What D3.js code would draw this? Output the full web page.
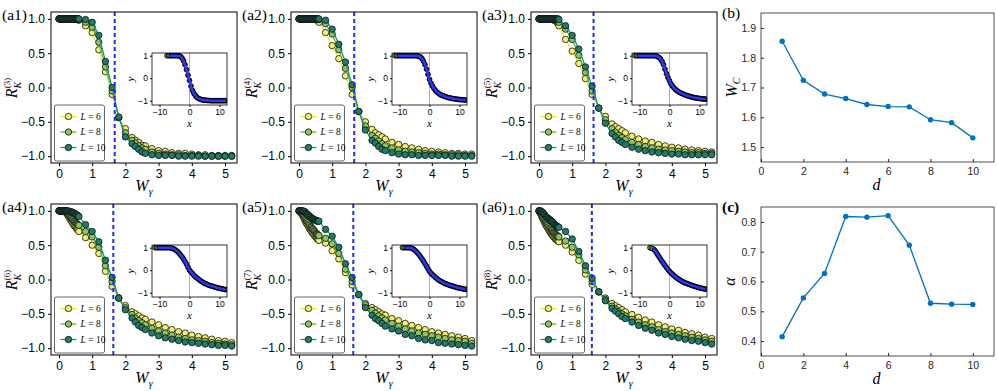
<!DOCTYPE html>
<html><head><meta charset="utf-8">
<script src="https://cdn.jsdelivr.net/npm/d3@7"></script>
<style>body{margin:0;background:#fff}svg{display:block}</style>
</head><body>
<svg id="c" width="997" height="391"></svg>
<script>
// ---------------- data ----------------
const W_dense  = [0,0.025,0.05,0.075,0.1,0.125,0.15,0.175,0.2,0.225,0.25,0.275,0.3,0.325,0.35,0.375,0.4,0.425,0.45,0.475,0.5,0.525,0.55,0.575];
const W_coarse = [0.6,0.8,1.0,1.2,1.4,1.6,1.8,2.0,2.2,2.3,2.4,2.5,2.6,2.8,3.0,3.2,3.4,3.6,3.8,4.0,4.2,4.4,4.6,4.8,5.0,5.2];

// blob values (on W_dense) and coarse values (on W_coarse)
const a1_L6_dense  = [1,1,1,1,1,1,1,1,1,1,1,1,1,1,1,1,1,1,1,1,1,0.995,0.99,0.99];
const a1_L8_dense  = [1,1,1,1,1,1,1,1,1,1,1,1,1,1,1,1,1,1,1,1,1,1,1,1];
const a1_L10_dense = [1,1,1,1,1,1,1,1,1,1,1,1,1,1,1,1,1,1,1,1,1,1,1,1];
const a1_L6  = [0.98,0.9,0.8,0.55,0.23,-0.1,-0.44,-0.6,-0.73,-0.77,-0.8,-0.84,-0.85,-0.89,-0.92,-0.93,-0.95,-0.96,-0.96,-0.97,-0.98,-0.98,-0.99,-0.99,-0.99,-0.99];
const a1_L8  = [0.99,0.95,0.88,0.66,0.3,-0.05,-0.44,-0.66,-0.77,-0.81,-0.85,-0.88,-0.9,-0.94,-0.96,-0.97,-0.98,-0.98,-0.99,-0.99,-0.99,-1,-1,-1,-1,-1];
const a1_L10 = [1,0.99,0.95,0.76,0.38,0.0,-0.43,-0.72,-0.82,-0.86,-0.9,-0.94,-0.96,-0.98,-0.99,-0.99,-0.99,-1,-1,-1,-1,-1,-1,-1,-1,-1];

const a2_L6_dense  = [1,1,1,1,1,1,1,1,1,1,1,1,1,1,1,1,1,1,1,1,0.99,0.99,0.98,0.97];
const a2_L8_dense  = [1,1,1,1,1,1,1,1,1,1,1,1,1,1,1,1,1,1,1,1,1,1,0.995,0.99];
const a2_L10_dense = [1,1,1,1,1,1,1,1,1,1,1,1,1,1,1,1,1,1,1,1,1,1,1,1];
const a2_L6  = [0.95,0.8,0.61,0.42,0.17,-0.1,-0.35,-0.5,-0.61,-0.66,-0.69,-0.72,-0.75,-0.8,-0.83,-0.86,-0.88,-0.9,-0.92,-0.93,-0.94,-0.95,-0.96,-0.96,-0.97,-0.97];
const a2_L8  = [0.99,0.93,0.78,0.55,0.28,0.0,-0.35,-0.56,-0.7,-0.74,-0.78,-0.82,-0.85,-0.88,-0.91,-0.93,-0.94,-0.95,-0.96,-0.97,-0.97,-0.98,-0.98,-0.98,-0.99,-0.99];
const a2_L10 = [1,0.98,0.85,0.63,0.37,0.04,-0.35,-0.62,-0.77,-0.81,-0.86,-0.9,-0.92,-0.95,-0.97,-0.98,-0.98,-0.99,-0.99,-0.99,-0.99,-0.99,-1,-1,-1,-1];

const a3_L6_dense  = [1,1,1,1,1,1,1,1,1,1,1,1,1,1,1,0.995,0.99,0.99,0.98,0.98,0.97,0.96,0.95,0.93];
const a3_L8_dense  = [1,1,1,1,1,1,1,1,1,1,1,1,1,1,1,1,1,0.995,0.99,0.99,0.98,0.98,0.97,0.96];
const a3_L10_dense = [1,1,1,1,1,1,1,1,1,1,1,1,1,1,1,1,1,1,1,1,1,1,1,1];
const a3_L6  = [0.9,0.7,0.53,0.35,0.13,-0.1,-0.3,-0.42,-0.53,-0.57,-0.6,-0.63,-0.66,-0.71,-0.75,-0.78,-0.8,-0.83,-0.85,-0.87,-0.88,-0.9,-0.91,-0.92,-0.93,-0.94];
const a3_L8  = [0.95,0.85,0.7,0.47,0.22,-0.05,-0.3,-0.47,-0.6,-0.65,-0.7,-0.73,-0.76,-0.8,-0.83,-0.86,-0.88,-0.9,-0.91,-0.92,-0.93,-0.94,-0.95,-0.95,-0.96,-0.96];
const a3_L10 = [0.99,0.9,0.76,0.56,0.3,0.02,-0.3,-0.52,-0.67,-0.72,-0.77,-0.8,-0.83,-0.87,-0.9,-0.92,-0.94,-0.95,-0.96,-0.97,-0.97,-0.98,-0.98,-0.98,-0.98,-0.98];

const a4_L6_dense  = [1,1,1,1,1,1,1,0.99,0.98,0.97,0.95,0.93,0.91,0.89,0.87,0.85,0.83,0.81,0.79,0.78,0.76,0.75,0.73,0.72];
const a4_L8_dense  = [1,1,1,1,1,1,1,1,0.99,0.98,0.97,0.96,0.94,0.93,0.91,0.9,0.88,0.87,0.85,0.84,0.83,0.82,0.81,0.8];
const a4_L10_dense = [1,1,1,1,1,1,1,1,1,1,1,1,0.99,0.99,0.99,0.98,0.98,0.97,0.97,0.96,0.95,0.94,0.94,0.93];
const a4_L6  = [0.7,0.61,0.5,0.38,0.12,-0.1,-0.27,-0.38,-0.47,-0.5,-0.53,-0.56,-0.58,-0.62,-0.66,-0.7,-0.73,-0.76,-0.78,-0.81,-0.83,-0.85,-0.87,-0.89,-0.9,-0.92];
const a4_L8  = [0.79,0.7,0.62,0.47,0.2,-0.03,-0.27,-0.41,-0.51,-0.56,-0.6,-0.63,-0.66,-0.71,-0.75,-0.78,-0.81,-0.84,-0.86,-0.88,-0.89,-0.9,-0.92,-0.93,-0.94,-0.95];
const a4_L10 = [0.92,0.8,0.7,0.55,0.28,0.03,-0.27,-0.44,-0.56,-0.62,-0.67,-0.7,-0.73,-0.78,-0.82,-0.85,-0.87,-0.89,-0.91,-0.92,-0.93,-0.94,-0.95,-0.96,-0.96,-0.97];

const a5_L6_dense  = [1,0.99,0.98,0.96,0.94,0.92,0.89,0.87,0.84,0.82,0.8,0.78,0.76,0.74,0.72,0.7,0.68,0.67,0.65,0.64,0.62,0.61,0.59,0.58];
const a5_L8_dense  = [1,1,0.99,0.98,0.97,0.95,0.93,0.91,0.89,0.87,0.85,0.83,0.81,0.79,0.77,0.76,0.74,0.73,0.71,0.7,0.68,0.67,0.66,0.65];
const a5_L10_dense = [1,1,1,1,1,1,0.99,0.99,0.97,0.96,0.95,0.94,0.93,0.92,0.91,0.9,0.89,0.88,0.87,0.87,0.86,0.86,0.85,0.85];
const a5_L6  = [0.57,0.53,0.42,0.3,0.1,-0.08,-0.22,-0.35,-0.41,-0.44,-0.47,-0.5,-0.52,-0.57,-0.6,-0.64,-0.67,-0.7,-0.73,-0.76,-0.78,-0.8,-0.82,-0.84,-0.86,-0.89];
const a5_L8  = [0.64,0.6,0.52,0.38,0.15,-0.03,-0.22,-0.37,-0.45,-0.49,-0.53,-0.56,-0.59,-0.64,-0.68,-0.72,-0.75,-0.78,-0.8,-0.82,-0.84,-0.86,-0.88,-0.89,-0.9,-0.93];
const a5_L10 = [0.85,0.73,0.63,0.47,0.23,0.03,-0.22,-0.41,-0.52,-0.57,-0.6,-0.64,-0.68,-0.72,-0.75,-0.8,-0.82,-0.86,-0.88,-0.89,-0.92,-0.93,-0.94,-0.95,-0.96,-0.97];

const a6_L6_dense  = [1,0.98,0.96,0.93,0.9,0.88,0.85,0.83,0.8,0.78,0.76,0.74,0.72,0.7,0.68,0.66,0.65,0.63,0.62,0.6,0.59,0.58,0.57,0.56];
const a6_L8_dense  = [1,0.99,0.98,0.96,0.94,0.91,0.89,0.87,0.85,0.83,0.81,0.79,0.77,0.75,0.74,0.72,0.71,0.69,0.68,0.67,0.66,0.65,0.64,0.63];
const a6_L10_dense = [1,1,1,0.99,0.98,0.97,0.95,0.94,0.92,0.91,0.9,0.89,0.88,0.87,0.86,0.85,0.84,0.83,0.81,0.8,0.79,0.78,0.77,0.77];
const a6_L6  = [0.55,0.5,0.4,0.28,0.08,-0.07,-0.18,-0.27,-0.35,-0.38,-0.41,-0.44,-0.47,-0.51,-0.55,-0.59,-0.62,-0.66,-0.69,-0.72,-0.74,-0.77,-0.79,-0.81,-0.84,-0.86];
const a6_L8  = [0.62,0.56,0.47,0.36,0.14,-0.03,-0.18,-0.29,-0.39,-0.43,-0.47,-0.5,-0.53,-0.58,-0.62,-0.66,-0.69,-0.73,-0.76,-0.78,-0.8,-0.82,-0.84,-0.86,-0.88,-0.9];
const a6_L10 = [0.76,0.7,0.59,0.41,0.2,0.02,-0.18,-0.31,-0.42,-0.46,-0.5,-0.54,-0.57,-0.62,-0.67,-0.71,-0.74,-0.78,-0.8,-0.83,-0.85,-0.87,-0.89,-0.9,-0.92,-0.94];

// inset (scaling collapse) samples
const insetX = [-12,-11.5,-11,-10.5,-10,-9.5,-9,-8.5,-8,-7.5,-7,-6.5,-6,-5.5,-5,-4.5,-4,-3.5,-3,-2.5,-2,-1.5,-1,-0.5,0,0.5,1,1.5,2,2.5,3,3.5,4,4.5,5,5.5,6,6.5,7,7.5,8,8.5,9,9.5,10,10.5,11,11.5,12];
const a1_inset = [null,null,null,null,null,null,null,null,null, 1,1,1,1,1,1,1,1,0.99,0.97,0.9,0.78,0.6,0.38,0.13,-0.1,-0.35,-0.55,-0.68,-0.78,-0.85,-0.9,-0.93,-0.95,-0.97,-0.98,-0.98,-0.99, -0.99,-1,-1,-1,-1,-1,-1,-1,-1,-1,-1,-1];
const a2_inset = [null, 1,1,1,1,1,1,1,1,1,1,1,1,1,1,1, 0.99,0.97,0.94,0.87,0.75,0.6,0.4,0.17,-0.05,-0.22,-0.35,-0.46,-0.55,-0.62,-0.67,-0.72,-0.75,-0.78,-0.8,-0.83,-0.85,-0.87,-0.88,-0.9,-0.91,-0.92,-0.93,-0.94,-0.95,-0.95,-0.96,-0.96,-0.97];
const a3_inset = [null, 1,1,1,1,1,1,1,1,1,1,1,1,1,1,1, 0.96,0.92,0.86,0.75,0.6,0.4,0.2,0.03,-0.12,-0.25,-0.35,-0.43,-0.5,-0.55,-0.6,-0.64,-0.67,-0.7,-0.73,-0.76,-0.78,-0.8,-0.82,-0.84,-0.85,-0.87,-0.88,-0.89,-0.9,-0.91,-0.92,-0.92,-0.93];
const a4_inset = [null, 1,1,1,1,1,1,1,1,1,1,1, 0.98,0.96,0.93,0.88,0.83,0.76,0.68,0.6,0.5,0.39,0.27,0.13,0.0,-0.08,-0.15,-0.23,-0.3,-0.35,-0.4,-0.45,-0.5,-0.54,-0.58,-0.61,-0.64,-0.67,-0.69,-0.71,-0.73,-0.75,-0.77,-0.79,-0.8,-0.82,-0.83,-0.85,-0.86];
const a5_inset = [null,null,null,null,null,null, 1,1,1,1,1,1, 0.98,0.95,0.9,0.84,0.77,0.69,0.6,0.5,0.4,0.29,0.18,0.06,-0.05,-0.13,-0.2,-0.26,-0.32,-0.38,-0.43,-0.47,-0.51,-0.55,-0.58,-0.61,-0.63,-0.66,-0.68,-0.7,-0.72,-0.74,-0.76,-0.78,-0.79,-0.81,-0.82,-0.84,-0.85];
const a6_inset = [null,null,null,null,null,null,null,null,null,null,null, 1,0.98,0.95,0.9,0.81,0.7,0.6,0.5,0.4,0.3,0.21,0.12,0.03,-0.05,-0.12,-0.18,-0.24,-0.3,-0.35,-0.4,-0.44,-0.48,-0.52,-0.55,-0.58,-0.6,-0.63,-0.65,-0.68,-0.7,-0.72,-0.74,-0.76,-0.78,-0.8,-0.81,-0.83,-0.84];

// right panels
const dVals = [1,2,3,4,5,6,7,8,9,10];
const W_c   = [1.855,1.724,1.678,1.663,1.643,1.636,1.635,1.592,1.582,1.531];
const alpha = [0.415,0.545,0.627,0.818,0.816,0.821,0.722,0.527,0.524,0.523];

const mainXTicks = [0,1,2,3,4,5];
const mainYTicks = [-1,-0.5,0,0.5,1];
const insetXTicks = [-10,0,10];
const insetYTicks = [-1,0,1];
const dTicks = [0,2,4,6,8,10];
const wcTicks = [1.5,1.6,1.7,1.8,1.9];
const alphaTicks = [0.4,0.5,0.6,0.7,0.8];
const Lnames = ["6","8","10"];

// ---------------- drawing ----------------
const W_gamma = W_dense.concat(W_coarse);
const svg = d3.select("#c");
const SANS = "Liberation Sans, Arial, sans-serif";
const SERIF = "Liberation Serif, Times New Roman, serif";
const series = [
  {fill:"#f3ef6c", line:"#ece43a"},
  {fill:"#8cc65c", line:"#62b444"},
  {fill:"#1f7d69", line:"#1b9281"}
];
const panels = [
  {lab:"(a1)", sup:"(3)", left:51,  top:12,  data:[a1_L6_dense.concat(a1_L6),a1_L8_dense.concat(a1_L8),a1_L10_dense.concat(a1_L10)], inset:a1_inset, wc:W_c[2]},
  {lab:"(a2)", sup:"(4)", left:291, top:12,  data:[a2_L6_dense.concat(a2_L6),a2_L8_dense.concat(a2_L8),a2_L10_dense.concat(a2_L10)], inset:a2_inset, wc:W_c[3]},
  {lab:"(a3)", sup:"(5)", left:531, top:12,  data:[a3_L6_dense.concat(a3_L6),a3_L8_dense.concat(a3_L8),a3_L10_dense.concat(a3_L10)], inset:a3_inset, wc:W_c[4]},
  {lab:"(a4)", sup:"(6)", left:51,  top:204, data:[a4_L6_dense.concat(a4_L6),a4_L8_dense.concat(a4_L8),a4_L10_dense.concat(a4_L10)], inset:a4_inset, wc:W_c[5]},
  {lab:"(a5)", sup:"(7)", left:291, top:204, data:[a5_L6_dense.concat(a5_L6),a5_L8_dense.concat(a5_L8),a5_L10_dense.concat(a5_L10)], inset:a5_inset, wc:W_c[6]},
  {lab:"(a6)", sup:"(8)", left:531, top:204, data:[a6_L6_dense.concat(a6_L6),a6_L8_dense.concat(a6_L8),a6_L10_dense.concat(a6_L10)], inset:a6_inset, wc:W_c[7]}
];
const PW = 186, PH = 151;

function styleAxis(g, size, font, color){
  g.select(".domain").remove();
  g.selectAll("text").attr("font-family", font).attr("font-size", size).attr("fill", color||"#000");
  g.selectAll("line").attr("stroke", color||"#000");
}

panels.forEach((p, pi) => {
  const x = d3.scaleLinear().domain([-0.24, 5.36]).range([p.left, p.left + PW]);
  const y = d3.scaleLinear().domain([-1.1, 1.1]).range([p.top + PH, p.top]);
  const g = svg.append("g");
  const cid = "clip" + pi;
  svg.append("clipPath").attr("id", cid).append("rect")
    .attr("x", p.left).attr("y", p.top).attr("width", PW).attr("height", PH);

  g.append("g").attr("transform", `translate(0,${p.top + PH})`)
    .call(d3.axisBottom(x).tickValues(mainXTicks).tickSize(3).tickPadding(3).tickFormat(d3.format("d")))
    .call(a => styleAxis(a, 12, SANS));
  g.append("g").attr("transform", `translate(${p.left},0)`)
    .call(d3.axisLeft(y).tickValues(mainYTicks).tickSize(3).tickPadding(3).tickFormat(d3.format(".1f")))
    .call(a => styleAxis(a, 12, SANS));

  const pg = g.append("g").attr("clip-path", `url(#${cid})`);
  p.data.forEach((vals, si) => {
    const s = series[si];
    const pts = W_gamma.map((w, i) => [w, vals[i]]);
    pg.append("path").datum(pts)
      .attr("d", d3.line().x(d => x(d[0])).y(d => y(d[1])))
      .attr("fill", "none").attr("stroke", s.line).attr("stroke-width", 1.3);
    pg.selectAll(null).data(pts).enter().append("circle")
      .attr("cx", d => x(d[0])).attr("cy", d => y(d[1])).attr("r", 3.2)
      .attr("fill", s.fill).attr("stroke", "#111").attr("stroke-width", 0.8);
  });
  pg.append("line").attr("x1", x(p.wc)).attr("x2", x(p.wc)).attr("y1", p.top).attr("y2", p.top + PH)
    .attr("stroke", "#2424ff").attr("stroke-width", 2).attr("stroke-dasharray", "4,3");

  g.append("rect").attr("x", p.left).attr("y", p.top).attr("width", PW).attr("height", PH)
    .attr("fill", "none").attr("stroke", "#000").attr("stroke-width", 1);

  // legend
  const lx = p.left + 3.5, ly = p.top + 93;
  const lg = g.append("g");
  lg.append("rect").attr("x", lx).attr("y", ly).attr("width", 50).attr("height", 56)
    .attr("rx", 2).attr("fill", "#fff").attr("stroke", "#555").attr("stroke-width", 0.9);
  series.forEach((s, si) => {
    const yy = ly + 11.5 + si * 15.5;
    lg.append("line").attr("x1", lx + 6).attr("x2", lx + 22).attr("y1", yy).attr("y2", yy)
      .attr("stroke", s.line).attr("stroke-width", 1.3);
    lg.append("circle").attr("cx", lx + 14).attr("cy", yy).attr("r", 3.2)
      .attr("fill", s.fill).attr("stroke", "#111").attr("stroke-width", 0.8);
    const t = lg.append("text").attr("x", lx + 26).attr("y", yy + 3.2)
      .attr("font-family", SERIF).attr("font-size", 9.5);
    t.append("tspan").attr("font-style", "italic").text("L");
    t.append("tspan").text(" = " + Lnames[si]);
  });

  // inset
  const il = p.left + 101, it = p.top + 41, iw = 75, ih = 52;
  const ix = d3.scaleLinear().domain([-12.5, 12.5]).range([il, il + iw]);
  const iy = d3.scaleLinear().domain([-1.19, 1.12]).range([it + ih, it]);
  const icid = "iclip" + pi;
  svg.append("clipPath").attr("id", icid).append("rect")
    .attr("x", il).attr("y", it).attr("width", iw).attr("height", ih);
  const ig = g.append("g");
  ig.append("rect").attr("x", il).attr("y", it).attr("width", iw).attr("height", ih).attr("fill", "#fff");
  ig.append("g").attr("transform", `translate(0,${it + ih})`)
    .call(d3.axisBottom(ix).tickValues(insetXTicks).tickSize(2).tickPadding(2).tickFormat(d3.format("d")))
    .call(a => styleAxis(a, 8.5, SANS));
  ig.append("g").attr("transform", `translate(${il},0)`)
    .call(d3.axisLeft(iy).tickValues(insetYTicks).tickSize(2).tickPadding(2).tickFormat(d3.format("d")))
    .call(a => styleAxis(a, 8.5, SANS));
  const ipg = ig.append("g").attr("clip-path", `url(#${icid})`);
  ipg.append("line").attr("x1", ix(0)).attr("x2", ix(0)).attr("y1", it).attr("y2", it + ih)
    .attr("stroke", "#b0b0b0").attr("stroke-width", 1);
  const ipts = insetX.map((v, i) => [v, p.inset[i]]).filter(d => d[1] !== null);
  ipg.selectAll(null).data(ipts).enter().append("circle")
    .attr("cx", d => ix(d[0])).attr("cy", d => iy(d[1])).attr("r", 2.4)
    .attr("fill", (d, i) => i < 3 ? "#8cc65c" : "#1c1c3a").attr("stroke", "#000").attr("stroke-width", 0.9);
  ipg.append("path").datum(ipts.filter((d, i) => i >= 2))
    .attr("d", d3.line().x(d => ix(d[0])).y(d => iy(d[1])))
    .attr("fill", "none").attr("stroke", "#2f35ff").attr("stroke-width", 2.4);
  ig.append("rect").attr("x", il).attr("y", it).attr("width", iw).attr("height", ih)
    .attr("fill", "none").attr("stroke", "#000").attr("stroke-width", 0.8);
  ig.append("text").attr("x", ix(0)).attr("y", it + ih + 22).attr("text-anchor", "middle")
    .attr("font-family", SERIF).attr("font-style", "italic").attr("font-size", 11).text("x");
  ig.append("text").attr("transform", `translate(${il - 18},${it + ih / 2}) rotate(-90)`)
    .attr("text-anchor", "middle").attr("font-family", SERIF).attr("font-style", "italic")
    .attr("font-size", 11).text("y");

  // labels
  g.append("text").attr("x", p.left - 49).attr("y", p.top + 8).attr("font-family", SERIF)
    .attr("font-size", 15.5).text(p.lab);
  const xl = g.append("text").attr("x", p.left + PW / 2).attr("y", p.top + PH + 28)
    .attr("text-anchor", "middle").attr("font-family", SERIF).attr("font-size", 16);
  xl.append("tspan").attr("font-style", "italic").text("W");
  xl.append("tspan").attr("font-style", "italic").attr("font-size", 10).attr("dy", 4).text("γ");
  const yl = g.append("text").attr("transform", `translate(${p.left - 34},${p.top + 76}) rotate(-90)`)
    .attr("text-anchor", "middle").attr("font-family", SERIF).attr("font-size", 16);
  yl.append("tspan").attr("font-style", "italic").text("R");
  yl.append("tspan").attr("font-style", "italic").attr("font-size", 10).attr("dy", 4).text("K");
  yl.append("tspan").attr("font-size", 9).attr("dx", -6.5).attr("dy", -11).text(p.sup);
});

// ---------- right panels ----------
function rightPanel(top, vals, dom, ticks, lab, bold, yLabelFn){
  const left = 761, w = 233, h = 149;
  const x = d3.scaleLinear().domain([0, 11]).range([left, left + w]);
  const y = d3.scaleLinear().domain(dom).range([top + h, top]);
  const g = svg.append("g");
  const C = "#262626";
  g.append("g").attr("transform", `translate(0,${top + h})`)
    .call(d3.axisBottom(x).tickValues(dTicks).tickSize(-3).tickPadding(6).tickFormat(d3.format("d")))
    .call(a => styleAxis(a, 10.5, SANS, C));
  g.append("g").attr("transform", `translate(${left},0)`)
    .call(d3.axisLeft(y).tickValues(ticks).tickSize(-3).tickPadding(5).tickFormat(d3.format(".1f")))
    .call(a => styleAxis(a, 10.5, SANS, C));
  g.append("rect").attr("x", left).attr("y", top).attr("width", w).attr("height", h)
    .attr("fill", "none").attr("stroke", C).attr("stroke-width", 0.8);
  const pts = dVals.map((d, i) => [d, vals[i]]);
  g.append("path").datum(pts).attr("d", d3.line().x(d => x(d[0])).y(d => y(d[1])))
    .attr("fill", "none").attr("stroke", "#0072BD").attr("stroke-width", 1.3);
  g.selectAll(null).data(pts).enter().append("circle")
    .attr("cx", d => x(d[0])).attr("cy", d => y(d[1])).attr("r", 2.7).attr("fill", "#0072BD");
  g.append("text").attr("x", 722).attr("y", top + 5).attr("font-family", SERIF).attr("font-size", 15.5)
    .attr("font-weight", bold ? "bold" : "normal").text(lab);
  g.append("text").attr("x", left + (x(11) - left) / 2 - 1).attr("y", top + h + 28).attr("text-anchor", "middle")
    .attr("font-family", SERIF).attr("font-style", "italic").attr("font-size", 16).text("d");
  yLabelFn(g, top + h / 2);
}
rightPanel(13, W_c, [1.45, 1.95], wcTicks, "(b)", false, (g, cy) => {
  const t = g.append("text").attr("transform", `translate(737,${cy}) rotate(-90)`)
    .attr("text-anchor", "middle").attr("font-family", SERIF).attr("font-style", "italic").attr("font-size", 16);
  t.append("tspan").text("W");
  t.append("tspan").attr("font-size", 10).attr("dy", 3).text("C");
});
rightPanel(207, alpha, [0.35, 0.85], alphaTicks, "(c)", true, (g, cy) => {
  g.append("text").attr("transform", `translate(735,${cy}) rotate(-90)`)
    .attr("text-anchor", "middle").attr("font-family", SERIF).attr("font-style", "italic").attr("font-size", 16).text("α");
});
</script>
</body></html>
